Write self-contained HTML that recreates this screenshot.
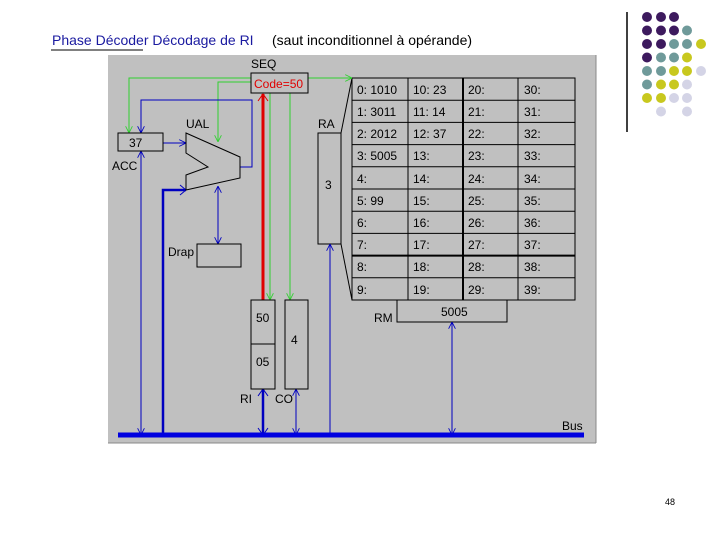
<!DOCTYPE html>
<html><head><meta charset="utf-8"><style>
html,body{margin:0;padding:0;background:#fff;width:720px;height:540px;overflow:hidden}
svg{display:block}
text{font-family:"Liberation Sans",sans-serif}
</style></head><body>
<svg width="720" height="540" viewBox="0 0 720 540" xmlns="http://www.w3.org/2000/svg">
<defs>
<marker id="ab" viewBox="0 0 10 10" refX="10" refY="5" markerWidth="7" markerHeight="7" orient="auto-start-reverse"><path d="M0,0 L10,5 L0,10" fill="none" stroke="#0000c0" stroke-width="1.2"/></marker>
<marker id="ag" viewBox="0 0 10 10" refX="10" refY="5" markerWidth="7" markerHeight="7" orient="auto-start-reverse"><path d="M0,0 L10,5 L0,10" fill="none" stroke="#30d030" stroke-width="1.2"/></marker>
<marker id="ar" viewBox="0 0 10 10" refX="10" refY="5" markerWidth="6" markerHeight="6" orient="auto-start-reverse"><path d="M0,0 L10,5 L0,10" fill="none" stroke="#e00000" stroke-width="1.2"/></marker>
</defs>
<!-- title -->
<text x="52" y="45" font-size="14" fill="#1a1aa0">Phase Décoder  Décodage de RI</text>
<line x1="51" y1="50" x2="143" y2="50" stroke="#000" stroke-width="1"/>
<text x="272" y="45" font-size="14" fill="#000">(saut inconditionnel à opérande)</text>
<!-- right decoration -->
<line x1="627" y1="12" x2="627" y2="132" stroke="#000" stroke-width="1.5"/>
<g>
<circle cx="647" cy="17" r="5" fill="#3d1a5e"/><circle cx="661" cy="17" r="5" fill="#3d1a5e"/><circle cx="674" cy="17" r="5" fill="#3d1a5e"/>
<circle cx="647" cy="30.5" r="5" fill="#3d1a5e"/><circle cx="661" cy="30.5" r="5" fill="#3d1a5e"/><circle cx="674" cy="30.5" r="5" fill="#3d1a5e"/><circle cx="687" cy="30.5" r="5" fill="#6f9a9a"/>
<circle cx="647" cy="44" r="5" fill="#3d1a5e"/><circle cx="661" cy="44" r="5" fill="#3d1a5e"/><circle cx="674" cy="44" r="5" fill="#6f9a9a"/><circle cx="687" cy="44" r="5" fill="#6f9a9a"/><circle cx="701" cy="44" r="5" fill="#c8c81e"/>
<circle cx="647" cy="57.5" r="5" fill="#3d1a5e"/><circle cx="661" cy="57.5" r="5" fill="#6f9a9a"/><circle cx="674" cy="57.5" r="5" fill="#6f9a9a"/><circle cx="687" cy="57.5" r="5" fill="#c8c81e"/>
<circle cx="647" cy="71" r="5" fill="#6f9a9a"/><circle cx="661" cy="71" r="5" fill="#6f9a9a"/><circle cx="674" cy="71" r="5" fill="#c8c81e"/><circle cx="687" cy="71" r="5" fill="#c8c81e"/><circle cx="701" cy="71" r="5" fill="#d4d4e6"/>
<circle cx="647" cy="84.5" r="5" fill="#6f9a9a"/><circle cx="661" cy="84.5" r="5" fill="#c8c81e"/><circle cx="674" cy="84.5" r="5" fill="#c8c81e"/><circle cx="687" cy="84.5" r="5" fill="#d4d4e6"/>
<circle cx="647" cy="98" r="5" fill="#c8c81e"/><circle cx="661" cy="98" r="5" fill="#c8c81e"/><circle cx="674" cy="98" r="5" fill="#d4d4e6"/><circle cx="687" cy="98" r="5" fill="#d4d4e6"/>
<circle cx="661" cy="111.5" r="5" fill="#d4d4e6"/><circle cx="687" cy="111.5" r="5" fill="#d4d4e6"/>
</g>
<!-- panel -->
<rect x="108" y="55" width="488" height="388" fill="#c0c0c0"/>
<line x1="596" y1="55" x2="596" y2="443" stroke="#888"/>
<line x1="108" y1="443" x2="596" y2="443" stroke="#888"/>
<!-- memory table -->
<g stroke="#000" fill="none" stroke-width="1">
<rect x="352" y="78" width="223" height="222"/>
<line x1="408" y1="78" x2="408" y2="300"/><line x1="463" y1="78" x2="463" y2="300" stroke-width="2"/><line x1="518" y1="78" x2="518" y2="300"/>
<line x1="352" y1="100.2" x2="575" y2="100.2"/><line x1="352" y1="122.4" x2="575" y2="122.4"/><line x1="352" y1="144.6" x2="575" y2="144.6"/><line x1="352" y1="166.8" x2="575" y2="166.8"/><line x1="352" y1="189" x2="575" y2="189"/><line x1="352" y1="211.2" x2="575" y2="211.2"/><line x1="352" y1="233.4" x2="575" y2="233.4"/><line x1="352" y1="255.6" x2="575" y2="255.6" stroke-width="2"/><line x1="352" y1="277.8" x2="575" y2="277.8"/>
<rect x="318" y="133" width="23" height="111"/>
<line x1="341" y1="133" x2="352" y2="78"/><line x1="341" y1="244" x2="352" y2="300"/>
<rect x="397" y="300" width="110" height="22"/>
</g>
<g font-size="12" fill="#000">
<text x="357" y="94">0: 1010</text><text x="413" y="94">10: 23</text><text x="468" y="94">20:</text><text x="524" y="94">30:</text>
<text x="357" y="116">1: 3011</text><text x="413" y="116">11: 14</text><text x="468" y="116">21:</text><text x="524" y="116">31:</text>
<text x="357" y="138">2: 2012</text><text x="413" y="138">12: 37</text><text x="468" y="138">22:</text><text x="524" y="138">32:</text>
<text x="357" y="160">3: 5005</text><text x="413" y="160">13:</text><text x="468" y="160">23:</text><text x="524" y="160">33:</text>
<text x="357" y="183">4:</text><text x="413" y="183">14:</text><text x="468" y="183">24:</text><text x="524" y="183">34:</text>
<text x="357" y="205">5: 99</text><text x="413" y="205">15:</text><text x="468" y="205">25:</text><text x="524" y="205">35:</text>
<text x="357" y="227">6:</text><text x="413" y="227">16:</text><text x="468" y="227">26:</text><text x="524" y="227">36:</text>
<text x="357" y="249">7:</text><text x="413" y="249">17:</text><text x="468" y="249">27:</text><text x="524" y="249">37:</text>
<text x="357" y="271">8:</text><text x="413" y="271">18:</text><text x="468" y="271">28:</text><text x="524" y="271">38:</text>
<text x="357" y="294">9:</text><text x="413" y="294">19:</text><text x="468" y="294">29:</text><text x="524" y="294">39:</text>
<text x="318" y="128">RA</text><text x="325" y="189">3</text>
<text x="441" y="316">5005</text><text x="374" y="322">RM</text>
<text x="251" y="68">SEQ</text>
<text x="186" y="128">UAL</text><text x="112" y="170">ACC</text><text x="168" y="256">Drap</text>
<text x="240" y="403">RI</text><text x="275" y="403">CO</text><text x="562" y="430">Bus</text>
</g>
<!-- green lines -->
<g stroke="#30d030" fill="none" stroke-width="1">
<polyline points="252,78 129,78 129,133" marker-end="url(#ag)"/>
<polyline points="252,82 218,82 218,142" marker-end="url(#ag)"/>
<line x1="308" y1="78" x2="352" y2="78" marker-end="url(#ag)"/>
<line x1="270" y1="93" x2="270" y2="300" marker-end="url(#ag)"/>
<line x1="290" y1="93" x2="290" y2="300" marker-end="url(#ag)"/>
</g>
<!-- SEQ box -->
<rect x="251" y="73" width="57" height="20" fill="#c0c0c0" stroke="#000"/>
<text x="254" y="88" font-size="12" fill="#e00000">Code=50</text>
<!-- red -->
<line x1="263" y1="300" x2="263" y2="94" stroke="#e00000" stroke-width="3"/>
<path d="M258,101 L263,94 L268,101" fill="none" stroke="#e00000" stroke-width="1"/>
<!-- blue lines -->
<g stroke="#0000c0" fill="none" stroke-width="1">
<polyline points="240,167 252,167 252,100 141,100 141,133" marker-end="url(#ab)"/>
<line x1="163" y1="143" x2="186" y2="143" marker-end="url(#ab)"/>
<line x1="141" y1="435" x2="141" y2="151" marker-end="url(#ab)"/>
<line x1="141" y1="151" x2="141" y2="435" marker-end="url(#ab)"/>
<line x1="218" y1="186" x2="218" y2="244" marker-start="url(#ab)" marker-end="url(#ab)"/>
<line x1="296" y1="389" x2="296" y2="435" marker-start="url(#ab)" marker-end="url(#ab)"/>
<line x1="330" y1="435" x2="330" y2="244" marker-end="url(#ab)"/>
<line x1="452" y1="322" x2="452" y2="435" marker-start="url(#ab)" marker-end="url(#ab)"/>
</g>
<polyline points="163,435 163,190 186,190" fill="none" stroke="#0000c0" stroke-width="2.5"/>
<path d="M180,185 L186,190 L180,195" fill="none" stroke="#0000c0"/>
<line x1="263" y1="389" x2="263" y2="435" stroke="#0000c0" stroke-width="2.5"/>
<path d="M258,396 L263,389 L268,396 M258,428 L263,435 L268,428" fill="none" stroke="#0000c0"/>
<line x1="118" y1="435" x2="584" y2="435" stroke="#0000e0" stroke-width="5"/>
<!-- boxes -->
<g stroke="#000" fill="#c0c0c0" stroke-width="1">
<rect x="118" y="133" width="45" height="18"/>
<polygon points="186,133 240,157 240,178 186,190 186,175 208,167 186,153"/>
<rect x="197" y="244" width="44" height="23"/>
<rect x="251" y="300" width="24" height="89"/>
<line x1="251" y1="344" x2="275" y2="344"/>
<rect x="285" y="300" width="23" height="89"/>
</g>
<g font-size="12" fill="#000">
<text x="129" y="147">37</text>
<text x="256" y="322">50</text><text x="256" y="366">05</text><text x="291" y="344">4</text>
</g>
<text x="665" y="505" font-size="9" fill="#000">48</text>
</svg>
</body></html>
